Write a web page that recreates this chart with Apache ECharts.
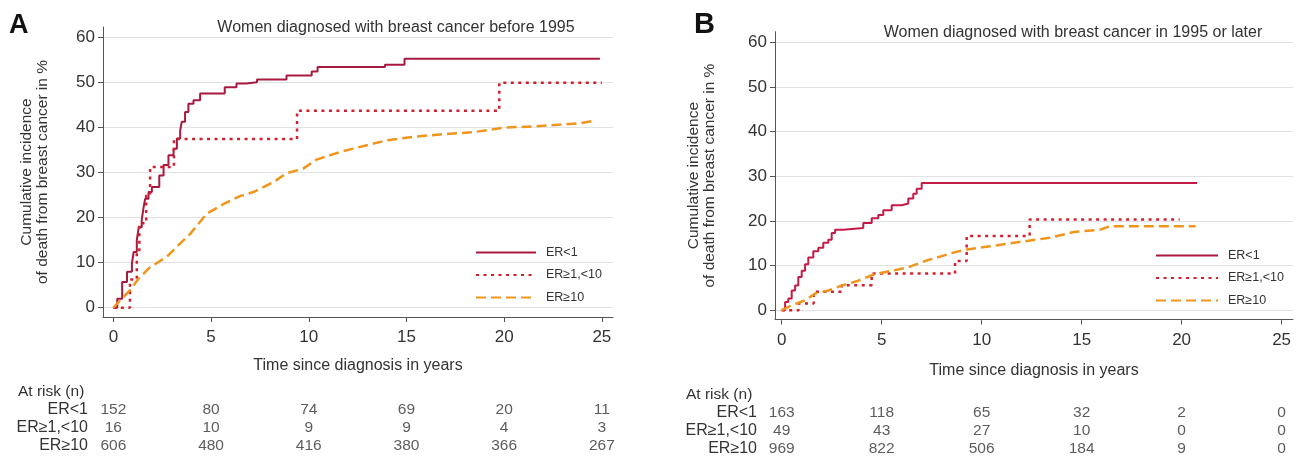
<!DOCTYPE html>
<html>
<head>
<meta charset="utf-8">
<script src="https://cdn.jsdelivr.net/npm/echarts@6/dist/echarts.min.js"></script>
<style>
html,body{margin:0;padding:0;background:#fff;}
#main{width:1299px;height:460px;}
</style>
</head>
<body>
<div id="main"></div>
<script>
// ---------- data ----------
const xTicks = [0, 5, 10, 15, 20, 25];
const yTicks = [0, 10, 20, 30, 40, 50, 60];
const groupNames = ['ER<1', 'ER≥1,<10', 'ER≥10'];
const titleA = 'Women diagnosed with breast cancer before 1995';
const titleB = 'Women diagnosed with breast cancer in 1995 or later';
const xName = 'Time since diagnosis in years';
const yName = 'Cumulative incidence\nof death from breast cancer in %';

// Panel A (diagnosed before 1995): [years, cumulative incidence %]
const erLt1A = [[0,0],[0.2,2],[0.45,5.7],[0.7,8],[0.95,9.8],[1.04,12.4],[1.2,15],[1.3,17.9],[1.45,19.4],[1.55,22.4],[1.63,24.2],[1.8,25.7],[1.97,26.8],[2.35,29.4],[2.57,31.7],[2.82,33.9],[3.08,35.3],[3.25,37.6],[3.42,39.4],[3.5,41.3],[3.67,43.5],[3.84,45.3],[4.1,46.1],[4.44,47.6],[5.7,49],[6.3,49.8],[6.8,50.1],[7.35,50.7],[8.86,51.6],[10.15,52.5],[10.45,53.5],[13.9,54],[14.9,55.3],[24.9,55.3]];
const erMidA = [[0,0],[0.85,6.25],[1.2,12.5],[1.33,18.75],[1.68,25],[1.88,31.25],[3.1,37.5],[9.4,43.75],[19.75,50],[25,50]];
const erGe10A = [[0,0],[0.34,1.6],[0.85,3.9],[1.28,6.4],[1.88,9],[2.73,11.3],[3.33,13.9],[3.93,16.4],[4.78,20.9],[5.63,23],[6.48,24.8],[7.17,25.7],[8.19,27.9],[8.87,29.9],[9.72,30.9],[10.4,32.9],[11.6,34.6],[12.97,36.1],[14,37.2],[15.2,37.9],[16.7,38.5],[18.4,39],[20,40],[21.5,40.3],[22.9,40.7],[23.9,41],[24.65,41.6]];

// Panel B (diagnosed 1995 or later)
const erLt1B = [[0,0],[0.17,1.8],[0.33,2.6],[0.5,4.4],[0.67,5.5],[0.83,7.4],[1.0,8.8],[1.17,10.3],[1.33,11.8],[1.58,13.2],[1.83,14],[2.08,15.1],[2.33,15.8],[2.5,17.3],[2.67,18],[3.08,18.4],[4.08,19.5],[4.5,20.6],[4.83,21.3],[5.08,22.4],[5.5,23.5],[6.0,23.9],[6.33,25],[6.58,26.1],[6.75,27.2],[7.0,28.5],[20.78,28.5]];
const erMidB = [[0,0],[0.85,1.5],[1.6,4.1],[3.0,5.6],[4.5,8.2],[8.67,11],[9.25,16.6],[12.4,20.3],[19.9,20.3]];
const erGe10B = [[0,0],[0.33,0.7],[0.5,1.1],[1.17,2.2],[1.67,3.7],[2.33,4.4],[3.0,5.5],[3.83,6.6],[4.67,8.1],[5.5,8.8],[6.33,9.6],[7.17,11],[8.0,12.1],[8.67,13],[9.25,13.6],[10.4,14.3],[12.25,15.5],[13.4,16.2],[14.6,17.5],[15.9,18],[16.4,18.8],[20.7,18.8]];

// Numbers at risk at each x tick
const atRiskLt1A = [152, 80, 74, 69, 20, 11];
const atRiskMidA = [16, 10, 9, 9, 4, 3];
const atRiskGe10A = [606, 480, 416, 380, 366, 267];
const atRiskLt1B = [163, 118, 65, 32, 2, 0];
const atRiskMidB = [49, 43, 27, 10, 0, 0];
const atRiskGe10B = [969, 822, 506, 184, 9, 0];

// ---------- styling ----------
const FONT = "'Liberation Sans', Arial, sans-serif";
const cSolidA = '#a8193f', cSolidB = '#c41a47', cDot = '#d0202e', cDash = '#f0951c';
const axisCol = '#555';
const txtCol = '#333';

function plotX(grid, min, max, name, gap, lblMargin) {
  return {
    type: 'value', gridIndex: grid, min: min, max: max,
    name: name, nameLocation: 'middle', nameGap: gap,
    nameTextStyle: {fontFamily: FONT, fontSize: 16, color: txtCol},
    axisLine: {show: true, onZero: false, lineStyle: {color: axisCol, width: 1}},
    axisTick: {show: true, customValues: xTicks, length: 5, lineStyle: {color: axisCol}},
    axisLabel: {customValues: xTicks, margin: lblMargin, fontFamily: FONT, fontSize: 17, color: txtCol},
    splitLine: {show: false}
  };
}
function plotY(grid, min, max, gap) {
  return {
    type: 'value', gridIndex: grid, min: min, max: max,
    name: yName, nameLocation: 'middle', nameGap: gap,
    nameTextStyle: {fontFamily: FONT, fontSize: 15.5, color: txtCol, lineHeight: 16},
    axisLine: {show: true, onZero: false, lineStyle: {color: axisCol, width: 1}},
    axisTick: {show: true, customValues: yTicks, length: 5, lineStyle: {color: axisCol}},
    axisLabel: {customValues: yTicks, margin: 8, fontFamily: FONT, fontSize: 17, color: txtCol},
    splitLine: {show: true, lineStyle: {color: '#e2e2e2', width: 1}}
  };
}
function tableX(grid, min, max) {
  return {type: 'value', gridIndex: grid, min: min, max: max, show: false};
}
function tableY(grid, margin) {
  return {
    type: 'category', gridIndex: grid, data: groupNames, inverse: true,
    axisLine: {show: false}, axisTick: {show: false}, splitLine: {show: false},
    axisLabel: {interval: 0, hideOverlap: false, margin: margin, fontFamily: FONT, fontSize: 16, color: txtCol}
  };
}
function tableData(rows) {
  const out = [];
  rows.forEach((arr, r) => arr.forEach((n, i) => out.push([xTicks[i], groupNames[r], n])));
  return out;
}
function km(name, data, xi, color, type, width, step) {
  return {
    type: 'line', name: name, xAxisIndex: xi, yAxisIndex: xi, data: data,
    step: step ? 'end' : false, showSymbol: false, symbol: 'none', silent: true,
    lineStyle: {color: color, width: width, type: type}, itemStyle: {color: color}
  };
}
function tableSeries(xi, rows) {
  return {
    type: 'scatter', xAxisIndex: xi, yAxisIndex: xi, data: tableData(rows),
    symbolSize: 1, itemStyle: {color: 'rgba(0,0,0,0)'}, silent: true,
    label: {show: true, position: 'inside', formatter: p => String(p.data[2]),
            fontFamily: FONT, fontSize: 15.5, color: txtCol}
  };
}
function legendAt(left, top, w) {
  return {
    data: groupNames, orient: 'vertical', left: left, top: top, padding: 0,
    itemWidth: w, itemHeight: 14, itemGap: 9.5, selectedMode: false,
    itemStyle: {opacity: 0},
    textStyle: {fontFamily: FONT, fontSize: 12.5, color: txtCol, padding: [0, 0, 0, 5]}
  };
}

const chart = echarts.init(document.getElementById('main'), null, {renderer: 'canvas'});
chart.setOption({
  backgroundColor: '#fff',
  animation: false,
  title: [
    {text: titleA, left: 391, top: 15, textAlign: 'center',
     textStyle: {fontFamily: FONT, fontSize: 16, fontWeight: 'normal', color: txtCol}},
    {text: titleB, left: 1068, top: 20, textAlign: 'center',
     textStyle: {fontFamily: FONT, fontSize: 16, fontWeight: 'normal', color: txtCol}}
  ],
  legend: [legendAt(475, 246, 60), legendAt(1155, 249, 62)],
  grid: [
    {left: 103, top: 27, width: 510, height: 290},
    {left: 775, top: 31.7, width: 518, height: 287.8},
    {left: 103, top: 401, width: 510, height: 54},
    {left: 775, top: 404, width: 518, height: 54}
  ],
  xAxis: [
    plotX(0, -0.53, 25.57, xName, 41, 12),
    plotX(1, -0.335, 25.57, xName, 43, 12),
    tableX(2, -0.53, 25.57),
    tableX(3, -0.335, 25.57)
  ],
  yAxis: [
    plotY(0, -2.06, 62.37, 52),
    plotY(1, -2.1, 62.4, 57),
    tableY(2, 15),
    tableY(3, 18)
  ],
  graphic: [
    {type: 'text', left: 9, top: 12, style: {text: 'A', font: "bold 27px 'Liberation Sans', Arial, sans-serif", fill: '#111'}},
    {type: 'text', left: 694, top: 10, style: {text: 'B', font: "bold 29px 'Liberation Sans', Arial, sans-serif", fill: '#111'}},
    {type: 'text', left: 18, top: 384, style: {text: 'At risk (n)', font: "15.5px 'Liberation Sans', Arial, sans-serif", fill: txtCol}},
    {type: 'text', left: 686, top: 387, style: {text: 'At risk (n)', font: "15.5px 'Liberation Sans', Arial, sans-serif", fill: txtCol}}
  ],
  series: [
    km(groupNames[0], erLt1A, 0, cSolidA, 'solid', 2, true),
    km(groupNames[1], erMidA, 0, cDot, [3, 4.5], 2.5, true),
    km(groupNames[2], erGe10A, 0, cDash, [10, 5], 2.5, false),
    km(groupNames[0], erLt1B, 1, cSolidB, 'solid', 2, true),
    km(groupNames[1], erMidB, 1, cDot, [3, 4.5], 2.5, true),
    km(groupNames[2], erGe10B, 1, cDash, [10, 5], 2.5, false),
    tableSeries(2, [atRiskLt1A, atRiskMidA, atRiskGe10A]),
    tableSeries(3, [atRiskLt1B, atRiskMidB, atRiskGe10B])
  ]
});
</script>
</body>
</html>
